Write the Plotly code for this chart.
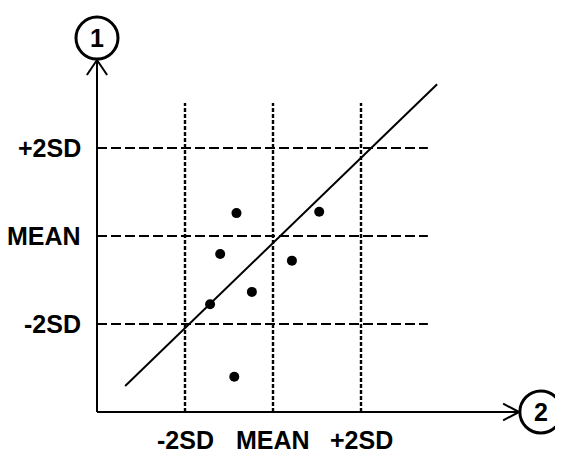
import plotly.graph_objects as go

# ---- data (in SD units, MEAN = 0) ----
grid_levels = [-2, 0, 2]
tick_labels = ["-2SD", "MEAN", "+2SD"]
point_x = [-0.83, 1.05, -1.20, 0.43, -0.48, -1.43, -0.88]
point_y = [0.52, 0.55, -0.41, -0.56, -1.27, -1.55, -3.20]
line_x = [-3.36, 3.73]
line_y = [-3.41, 3.45]
axis_names = ["1", "2"]

OFF = 8            # page body margin
W, H = 563 - OFF, 455 - OFF
PX = 44.0          # pixels per SD unit
X0PIX, Y0PIX = 273 - OFF, 236 - OFF
xr = [-X0PIX / PX, (W - X0PIX) / PX]
yr = [-(H - Y0PIX) / PX, Y0PIX / PX]

origin = -4.0
ytip = 4.0
xtip = 5.59
hline_end = 3.52
vline_top = 3.02

fig = go.Figure()

shapes = []
for lv in grid_levels:
    shapes.append(dict(type="line", x0=origin, x1=hline_end, y0=lv, y1=lv,
                       line=dict(color="black", width=1.8, dash="10px,4px")))
for lv in grid_levels:
    shapes.append(dict(type="line", x0=lv, x1=lv, y0=origin, y1=vline_top,
                       line=dict(color="black", width=2.4, dash="4px,2px")))
shapes.append(dict(type="line", x0=origin, x1=origin, y0=origin, y1=ytip,
                   line=dict(color="black", width=2)))
shapes.append(dict(type="line", x0=origin, x1=xtip, y0=origin, y1=origin,
                   line=dict(color="black", width=2)))
for dx in (-0.23, 0.23):
    shapes.append(dict(type="line", x0=origin + dx, x1=origin, y0=ytip - 0.34, y1=ytip,
                       line=dict(color="black", width=2)))
for dy in (-0.19, 0.19):
    shapes.append(dict(type="line", x0=xtip - 0.36, x1=xtip, y0=origin + dy, y1=origin,
                       line=dict(color="black", width=2)))
r = 21 / PX
c1 = (origin, ytip + r + 0.02)
c2 = (xtip + r + 0.02, origin)
for cx, cy in (c1, c2):
    shapes.append(dict(type="circle", x0=cx - r, x1=cx + r, y0=cy - r, y1=cy + r,
                       line=dict(color="black", width=3)))

fig.add_trace(go.Scatter(x=line_x, y=line_y, mode="lines",
                         line=dict(color="black", width=2), hoverinfo="skip"))
fig.add_trace(go.Scatter(x=point_x, y=point_y, mode="markers",
                         marker=dict(color="black", size=10)))

font = dict(family="Liberation Sans, Arial, sans-serif", size=25, color="black")
ann = []
for lv, lab in zip(grid_levels, tick_labels):
    ann.append(dict(x=-4.32, y=lv, text="<b>%s</b>" % lab, showarrow=False,
                    xanchor="right", yanchor="middle", font=font))
    ann.append(dict(x=lv, y=-4.64, text="<b>%s</b>" % lab, showarrow=False,
                    xanchor="center", yanchor="middle", font=font))
for (cx, cy), nm in zip((c1, c2), axis_names):
    ann.append(dict(x=cx, y=cy, text="<b>%s</b>" % nm, showarrow=False,
                    xanchor="center", yanchor="middle", font=font))

fig.update_layout(
    width=W, height=H, margin=dict(l=0, r=0, t=0, b=0),
    paper_bgcolor="white", plot_bgcolor="white", showlegend=False,
    shapes=shapes, annotations=ann,
    xaxis=dict(range=xr, visible=False, fixedrange=True),
    yaxis=dict(range=yr, visible=False, fixedrange=True),
)
fig.write_html("out.html", config={"displayModeBar": False})
